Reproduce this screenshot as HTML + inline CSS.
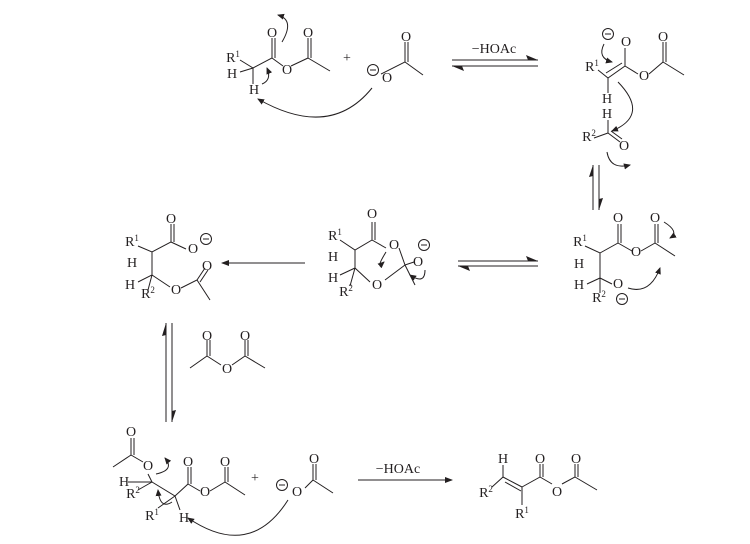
<!DOCTYPE html><html><head><style>body{margin:0;background:#fff}svg{display:block}text{font-family:"Liberation Serif",serif;font-size:14px;fill:#231f20;text-anchor:middle}.s{font-size:9px}</style></head><body>
<svg width="750" height="544" viewBox="0 0 750 544" xmlns="http://www.w3.org/2000/svg">
<defs><marker id="a" markerWidth="8" markerHeight="6" refX="7" refY="3" orient="auto"><path d="M0,0L8,3L0,6z" fill="#231f20"/></marker>
<marker id="h" markerWidth="7" markerHeight="6" refX="6" refY="3" orient="auto"><path d="M0,0L7,3L0,6z" fill="#231f20"/></marker></defs>
<g fill="#231f20"><path d="M538,60L526,55L528,60z"/><path d="M452,66L464,71L462,66z"/><path d="M538,261L526,256L528,261z"/><path d="M458,266L470,271L468,266z"/><path d="M593,165L589,177L593,176z"/><path d="M599,210L603,198L599,199z"/><path d="M166,323L162,336L166,335z"/><path d="M172,422L176,410L172,411z"/></g>
<g stroke="#231f20" stroke-width="1" fill="none">
<path d="M240,60L253,68L253,84M240,72L253,68L272,58L272,38M275,58L275,38M272,58L283,66M291,66L308,58L308,38M311,58L311,38M308,58L330,71"/>
<path d="M381,74L405,62L405,42M408,62L408,42M405,62L423,75"/>
<path d="M372,88Q330,140 258,99" marker-end="url(#h)"/>
<path d="M282,42Q295,20 278,15" marker-end="url(#h)"/><path d="M262,84Q272,80 267,68" marker-end="url(#h)"/>
<path d="M452,60L538,60M452,66L538,66"/>
<path d="M598,70L608,78L625,66L625,48M606,73L622,63M608,78L608,93M625,66L638,74M649,74L663,62L663,42M666,62L666,42M663,62L684,75"/>
<path d="M608,120L608,133L594,138M608,133L620,142M611,131L622,139"/>
<path d="M604,44Q597,58 612,62" marker-end="url(#h)"/><path d="M618,82Q650,115 612,131" marker-end="url(#h)"/><path d="M607,152Q610,170 630,165" marker-end="url(#h)"/>
<path d="M593,165L593,210M599,165L599,210"/>
<path d="M585,246L600,253L618,243L618,224M621,243L621,224M618,243L632,251M641,251L655,243L655,224M658,243L658,224M655,243L675,256M600,253L600,278L587,284M600,278L612,284M600,278L600,293"/>
<path d="M628,288Q650,295 660,268" marker-end="url(#h)"/><path d="M664,222Q680,232 670,238" marker-end="url(#h)"/>
<path d="M340,240L355,250L372,240L372,222M375,240L375,222M372,240L386,248M399,248L405,265L414,262M405,265L415,285M405,265L385,280M370,282L355,268L355,250M355,268L340,275M355,268L350,286"/>
<path d="M386,252Q375,270 384,262" marker-end="url(#h)"/><path d="M425,270Q425,285 410,275" marker-end="url(#h)"/>
<path d="M458,261L538,261M458,266L538,266"/>
<path d="M305,263L222,263" marker-end="url(#a)"/>
<path d="M138,246L152,252L171,242L171,224M174,242L174,224M171,242L186,249M152,252L152,275L138,282M152,275L148,290M152,275L170,287M181,288L197,280L205,268M200,282L208,270M197,280L210,300"/>
<path d="M166,323L166,422M172,323L172,422"/>
<path d="M190,368L207,356L207,340M210,356L210,340M207,356L221,365M232,365L245,356L245,340M248,356L248,340M245,356L265,368"/>
<path d="M113,467L131,455L131,438M134,455L134,438M131,455L143,462M148,474L152,482L128,482M152,482L138,490M152,482L175,496L188,484L188,467M191,484L191,467M188,484L200,491M210,491L225,482L225,467M228,482L228,467M225,482L245,495M175,496L158,508M175,496L180,510"/>
<path d="M288,500Q250,560 188,518" marker-end="url(#h)"/>
<path d="M156,474Q175,470 165,458" marker-end="url(#h)"/><path d="M172,502Q160,510 158,490" marker-end="url(#h)"/>
<path d="M305,488L313,480L313,464M316,480L316,464M313,480L333,493"/>
<path d="M358,480L452,480" marker-end="url(#a)"/>
<path d="M492,487L503,477L503,465M503,477L522,487M505,482L521,491M522,487L522,505M522,487L540,477L540,464M543,477L543,464M540,477L552,484M562,484L575,477L575,464M578,477L578,464M575,477L597,490"/>
<circle cx="373" cy="70" r="5.5"/><circle cx="608" cy="34" r="5.5"/><circle cx="622" cy="299" r="5.5"/><circle cx="424" cy="245" r="5.5"/><circle cx="206" cy="239" r="5.5"/><circle cx="282" cy="485" r="5.5"/>
<path d="M370,70h6M605,34h6M619,299h6M421,245h6M203,239h6M279,485h6"/>
</g>
<g>
<text x="233" y="62">R<tspan class="s" dy="-5">1</tspan></text><text x="232" y="78">H</text><text x="254" y="94">H</text>
<text x="272" y="37">O</text><text x="287" y="74">O</text><text x="308" y="37">O</text><text x="347" y="62">+</text>
<text x="387" y="82">O</text><text x="406" y="41">O</text>
<text x="494" y="53">−HOAc</text>
<text x="592" y="71">R<tspan class="s" dy="-5">1</tspan></text><text x="626" y="46">O</text><text x="644" y="80">O</text><text x="663" y="41">O</text>
<text x="607" y="103">H</text><text x="607" y="118">H</text><text x="589" y="141">R<tspan class="s" dy="-5">2</tspan></text><text x="624" y="150">O</text>
<text x="580" y="246">R<tspan class="s" dy="-5">1</tspan></text><text x="579" y="268">H</text><text x="579" y="289">H</text><text x="618" y="222">O</text><text x="636" y="256">O</text><text x="655" y="222">O</text><text x="618" y="288">O</text><text x="599" y="302">R<tspan class="s" dy="-5">2</tspan></text>
<text x="335" y="240">R<tspan class="s" dy="-5">1</tspan></text><text x="333" y="261">H</text><text x="333" y="282">H</text><text x="372" y="218">O</text><text x="394" y="249">O</text><text x="418" y="266">O</text><text x="377" y="289">O</text><text x="346" y="296">R<tspan class="s" dy="-5">2</tspan></text>
<text x="132" y="246">R<tspan class="s" dy="-5">1</tspan></text><text x="132" y="267">H</text><text x="130" y="289">H</text><text x="171" y="223">O</text><text x="193" y="253">O</text><text x="207" y="270">O</text><text x="176" y="294">O</text><text x="148" y="298">R<tspan class="s" dy="-5">2</tspan></text>
<text x="207" y="340">O</text><text x="227" y="373">O</text><text x="245" y="340">O</text>
<text x="131" y="436">O</text><text x="148" y="470">O</text><text x="124" y="486">H</text><text x="133" y="498">R<tspan class="s" dy="-5">2</tspan></text><text x="152" y="520">R<tspan class="s" dy="-5">1</tspan></text><text x="184" y="522">H</text>
<text x="188" y="466">O</text><text x="205" y="496">O</text><text x="225" y="466">O</text><text x="255" y="482">+</text>
<text x="297" y="496">O</text><text x="314" y="463">O</text>
<text x="398" y="473">−HOAc</text>
<text x="503" y="463">H</text><text x="486" y="497">R<tspan class="s" dy="-5">2</tspan></text><text x="522" y="518">R<tspan class="s" dy="-5">1</tspan></text><text x="540" y="463">O</text><text x="557" y="496">O</text><text x="576" y="463">O</text>
</g>
</svg></body></html>
